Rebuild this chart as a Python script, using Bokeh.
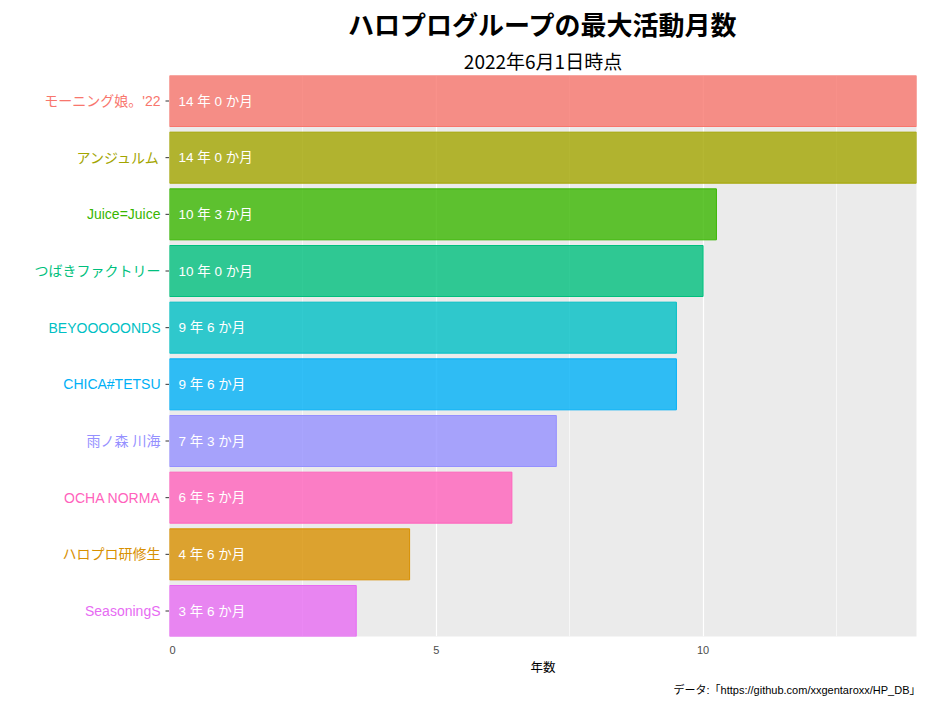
from bokeh.plotting import figure
from bokeh.layouts import row
from bokeh.models import ColumnDataSource, Range1d, FixedTicker, LabelSet, Title
from bokeh.core.properties import value
from bokeh.embed import file_html
from bokeh.resources import INLINE

# ---- data ----
groups = ["モーニング娘。'22", "アンジュルム", "Juice=Juice", "つばきファクトリー",
          "BEYOOOOONDS", "CHICA#TETSU", "雨ノ森 川海", "OCHA NORMA",
          "ハロプロ研修生", "SeasoningS"]
years = [14, 14, 10, 10, 9, 9, 7, 6, 4, 3]
months = [0, 0, 3, 0, 6, 6, 3, 5, 6, 6]
colors = ["#F8766D", "#A3A500", "#39B600", "#00BF7D", "#00BFC4",
          "#00B0F6", "#9590FF", "#FF62BC", "#D89000", "#E76BF3"]
x_ticks = [0, 5, 10]
x_minor = [2.5, 7.5, 12.5]

title_text = "ハロプログループの最大活動月数"
subtitle_text = "2022年6月1日時点"
xlabel_text = "年数"
caption_text = "データ:「https://github.com/xxgentaroxx/HP_DB」"

n = len(groups)
ypos = list(range(n, 0, -1))
vals = [y + m / 12 for y, m in zip(years, months)]
labels = [f"{y} 年 {m} か月" for y, m in zip(years, months)]

src = ColumnDataSource(dict(group=groups, y=ypos, val=vals, zero=[0] * n,
                            tick0=[-4] * n, color=colors, label=labels))

FONT = "'Liberation Sans', 'Noto Sans CJK JP'"
JFONT = "Noto Sans CJK JP"

H = 700
TOP = 75
BOTTOM = 64
LEFT_W = 169

yr = Range1d(0.55, n + 0.45)

# ---- left strip with coloured category labels ----
L = figure(width=LEFT_W, height=H, output_backend="svg", toolbar_location=None,
           x_range=Range1d(-LEFT_W, 0), y_range=yr, title=None,
           x_axis_location=None, y_axis_location=None,
           min_border_left=0, min_border_right=0,
           min_border_top=TOP, min_border_bottom=BOTTOM)
L.outline_line_color = None
L.background_fill_color = "white"
L.border_fill_color = "white"
L.grid.visible = False
L.text(x="zero", y="y", text="group", source=src, x_offset=-9,
       text_align="right", text_baseline="middle", text_color="color",
       text_font=value(FONT), text_font_size="14px")
L.segment(x0="tick0", x1="zero", y0="y", y1="y", source=src,
          line_color="#333333", line_width=1)

# ---- main chart ----
p = figure(width=767, height=H, output_backend="svg", toolbar_location=None,
           x_range=Range1d(0, 14), y_range=yr, title=None,
           y_axis_location=None,
           min_border_left=0, min_border_right=20,
           min_border_top=TOP, min_border_bottom=BOTTOM)

p.background_fill_color = "#EBEBEB"
p.border_fill_color = "white"
p.outline_line_color = None

p.hbar(y="y", left="zero", right="val", height=0.9, source=src,
       fill_color="color", fill_alpha=0.8, line_color="color", line_width=1)

bl = LabelSet(x="zero", y="y", text="label", source=src, x_offset=9,
              text_color="white", text_font_size="13.5px", text_baseline="middle",
              text_align="left", text_font=value(FONT))
p.add_layout(bl)

p.xaxis.ticker = FixedTicker(ticks=x_ticks, minor_ticks=x_minor)
p.xaxis.axis_line_color = None
p.xaxis.major_tick_line_color = None
p.xaxis.minor_tick_line_color = None
p.xaxis.major_label_text_color = "#4D4D4D"
p.xaxis.major_label_text_font_size = "11px"
p.xaxis.major_label_text_font = FONT
p.xaxis.major_label_standoff = 3
p.xaxis.axis_label = xlabel_text
p.xaxis.axis_label_text_font = JFONT
p.xaxis.axis_label_text_font_size = "12.5px"
p.xaxis.axis_label_text_font_style = "normal"
p.xaxis.axis_label_text_color = "black"
p.xaxis.axis_label_standoff = 0

p.xgrid.grid_line_color = "white"
p.xgrid.grid_line_width = 1.2
p.xgrid.minor_grid_line_color = "white"
p.xgrid.minor_grid_line_width = 0.6
p.ygrid.grid_line_color = None

sub = Title(text=subtitle_text, align="center", text_font=JFONT, standoff=4,
            text_font_size="19px", text_font_style="normal", text_color="black")
p.add_layout(sub, "above")
main = Title(text=title_text, align="center", text_font=JFONT, standoff=2,
             text_font_size="26px", text_font_style="bold", text_color="black")
p.add_layout(main, "above")

cap = Title(text=caption_text, align="right", text_font=FONT, standoff=6,
            offset=-4, text_font_size="11px", text_font_style="normal",
            text_color="black")
p.add_layout(cap, "below")

layout = row(L, p)
open("out.html", "w").write(file_html(layout, INLINE))
